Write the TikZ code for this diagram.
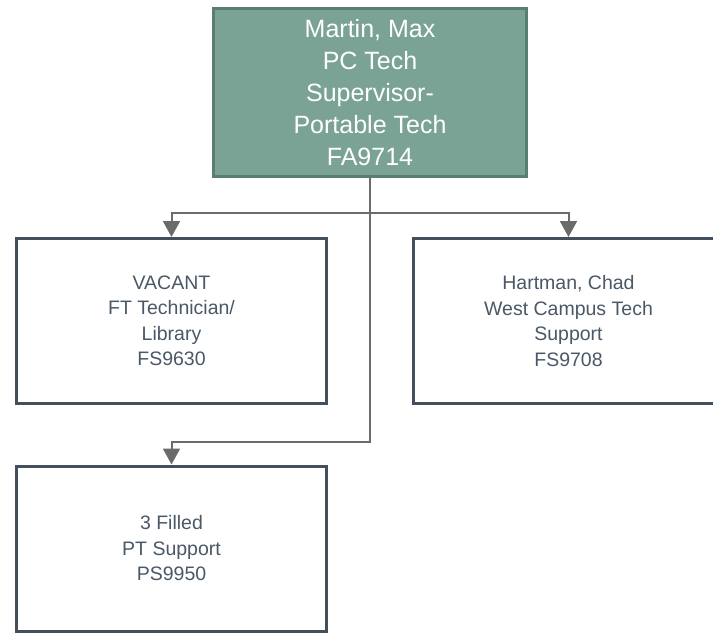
\documentclass[tikz,border=0pt]{standalone}
\usepackage{fontspec}
\setmainfont{Liberation Sans}
\usetikzlibrary{arrows.meta}

\definecolor{sage}{HTML}{7AA396}
\definecolor{sageline}{HTML}{5A7F72}
\definecolor{slate}{HTML}{434F5B}
\definecolor{slatetext}{HTML}{4B5867}
\definecolor{conngray}{HTML}{6B6B6B}

\tikzset{
	headbox/.style={draw=sageline, fill=sage, line width=3pt, minimum width=313pt, minimum height=168pt,
		align=center, text=white, font=\fontsize{25pt}{32pt}\selectfont},
	staffbox/.style={draw=slate, fill=white, line width=3pt, minimum width=310pt, minimum height=165pt,
		align=center, text=slatetext, font=\fontsize{19.5pt}{25.5pt}\selectfont},
	conn/.style={draw=conngray, line width=2pt, -{Triangle[width=17pt,length=16pt]}},
}

\begin{document}
\begin{tikzpicture}[x=1pt,y=-1pt]
	\clip (0,0) rectangle (713,635);	%page, right box runs off the edge
	\fill[white] (0,0) rectangle (713,635);

	\node[headbox] (martin) at (370,92.5) {Martin, Max\\PC Tech\\Supervisor-\\Portable Tech\\FA9714};

	\node[staffbox] (vacant) at (171.5,321) {VACANT\\FT Technician/\\Library\\FS9630};
	\node[staffbox] (hartman) at (568.5,321) {Hartman, Chad\\West Campus Tech\\Support\\FS9708};
	\node[staffbox] (filled) at (171.5,548.5) {3 Filled\\PT Support\\PS9950};

	\coordinate (split) at (370,213);	%branch to the two upper boxes
	\coordinate (down) at (370,442);	%branch to the lower box

	\draw[conn] (martin.south) -- (split) -| (vacant.north);
	\draw[conn] (split) -| (hartman.north);
	\draw[conn] (split) -- (down) -| (filled.north);
\end{tikzpicture}
\end{document}
